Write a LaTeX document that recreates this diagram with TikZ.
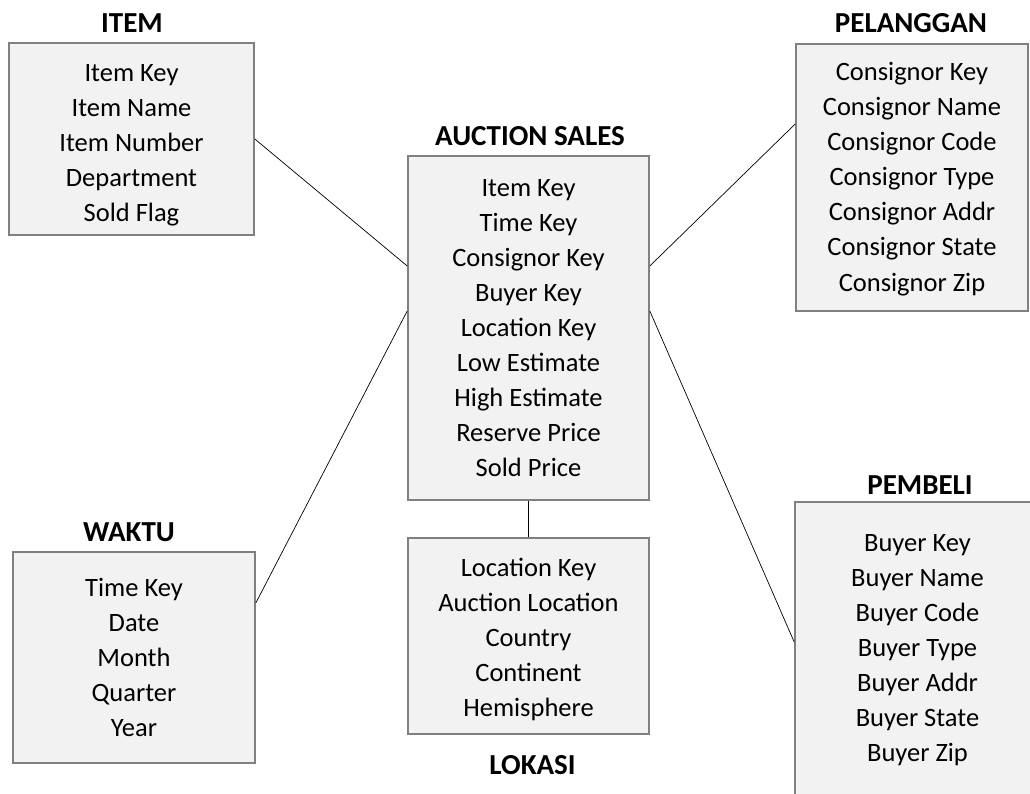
\documentclass[tikz,border=0pt]{standalone}
\usepackage{fontspec}
\setmainfont{Carlito}
\definecolor{boxfill}{HTML}{F2F2F2}
\definecolor{boxline}{HTML}{808080}
\newcommand{\tpad}[1]{\rule{0pt}{#1}}
\begin{document}
\begin{tikzpicture}[x=1pt,y=-1pt,
  tbl/.style={draw=boxline,fill=boxfill,line width=1.6pt,inner sep=0pt,align=center,
    font=\fontsize{26.5}{35.1}\selectfont},
  ttl/.style={inner sep=0pt,font=\fontsize{29}{32}\selectfont\bfseries},
  link/.style={draw=black,line width=0.7pt}]
\useasboundingbox (0,0) rectangle (1030,794);
\begin{scope}
\clip (0,0) rectangle (1030,794);
\node[tbl,minimum width=245pt,minimum height=192pt] (item) at (131.5,139)
  {\tpad{29pt}Item Key\\Item Name\\Item Number\\Department\\Sold Flag};
\node[tbl,minimum width=241pt,minimum height=344pt] (auc) at (528.5,328)
  {Item Key\\Time Key\\Consignor Key\\Buyer Key\\Location Key\\Low Estimate\\High Estimate\\Reserve Price\\Sold Price};
\node[tbl,minimum width=232pt,minimum height=267pt] (pel) at (912,177.5)
  {\tpad{21pt}Consignor Key\\Consignor Name\\Consignor Code\\Consignor Type\\Consignor Addr\\Consignor State\\Consignor Zip};
\node[tbl,minimum width=242pt,minimum height=211pt] (wak) at (134,657.5)
  {Time Key\\Date\\Month\\Quarter\\Year};
\node[tbl,minimum width=241pt,minimum height=196pt] (lok) at (528.5,636)
  {\tpad{25pt}Location Key\\Auction Location\\Country\\Continent\\Hemisphere};
\node[tbl,minimum width=245pt,minimum height=296pt] (pem) at (917.5,650)
  {Buyer Key\\Buyer Name\\Buyer Code\\Buyer Type\\Buyer Addr\\Buyer State\\Buyer Zip};
\end{scope}
\node[ttl] (titem) at (132,23) {ITEM};
\node[ttl] (tauc) at (530,136) {AUCTION SALES};
\node[ttl] (tpel) at (911,23) {PELANGGAN};
\node[ttl] (twak) at (129,532) {WAKTU};
\node[ttl] (tlok) at (532.5,765) {LOKASI};
\node[ttl] (tpem) at (920,485) {PEMBELI};
\draw[link] (item.east) -- ([yshift=62pt]auc.west);
\draw[link] ([yshift=54.5pt]wak.east) -- ([yshift=17pt]auc.west);
\draw[link] ([yshift=53.5pt]pel.west) -- ([yshift=62pt]auc.east);
\draw[link] ([yshift=8pt]pem.west) -- ([yshift=17pt]auc.east);
\draw[link] (auc.south) -- (lok.north);
\end{tikzpicture}
\end{document}
